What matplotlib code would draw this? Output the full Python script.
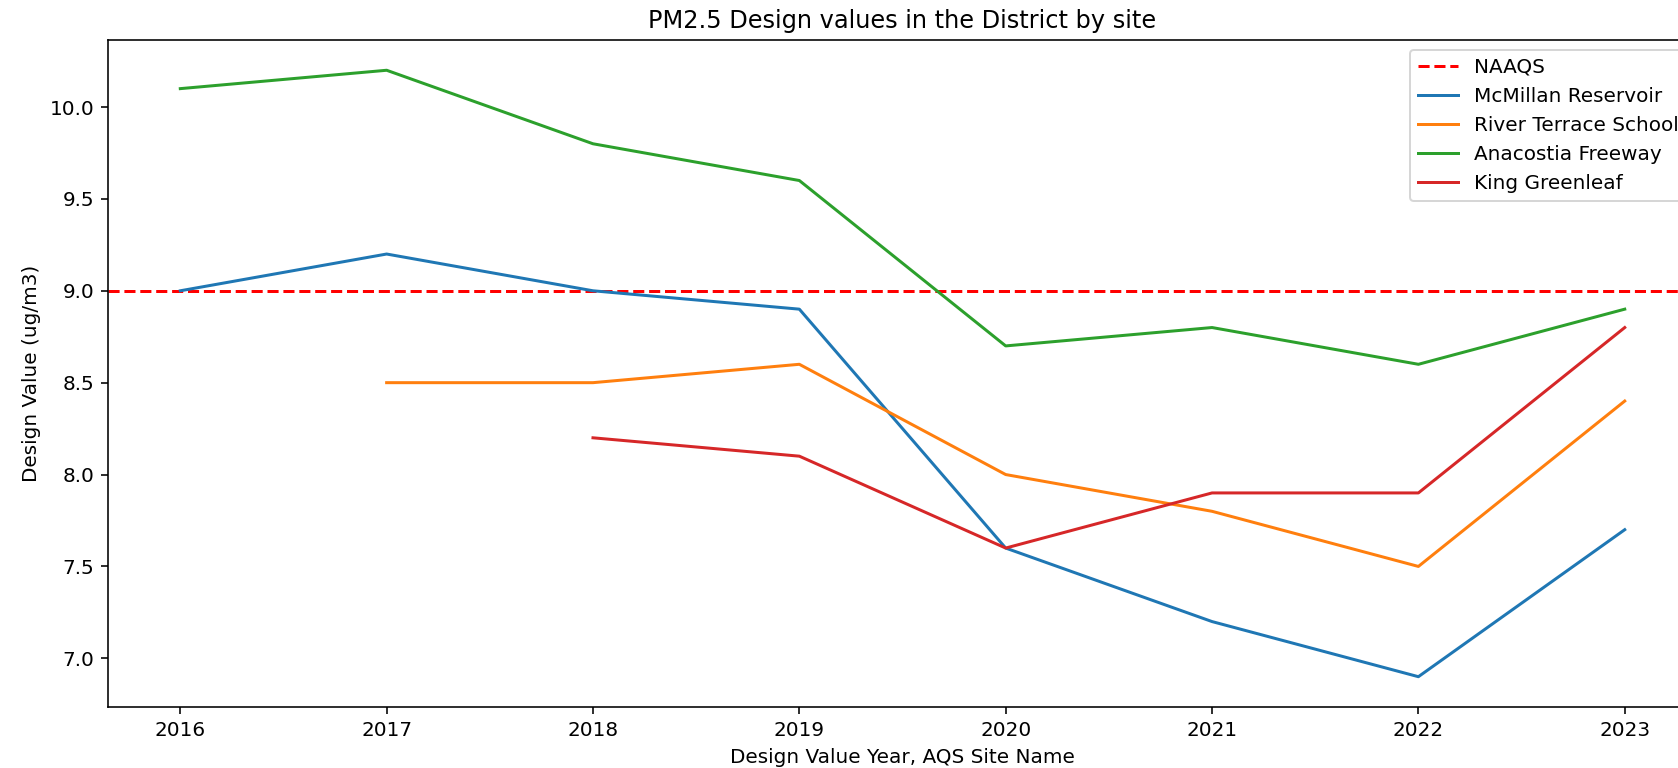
import matplotlib
matplotlib.use("Agg")
import matplotlib.pyplot as plt
import numpy as np

years = [2016, 2017, 2018, 2019, 2020, 2021, 2022, 2023]
naaqs = 9.0

mcmillan = [9.0, 9.2, 9.0, 8.9, 7.6, 7.2, 6.9, 7.7]
river_terrace = [np.nan, 8.5, 8.5, 8.6, 8.0, 7.8, 7.5, 8.4]
anacostia = [10.1, 10.2, 9.8, 9.6, 8.7, 8.8, 8.6, 8.9]
king_greenleaf = [np.nan, np.nan, 8.2, 8.1, 7.6, 7.9, 7.9, 8.8]

sites = {
    "McMillan Reservoir": mcmillan,
    "River Terrace School": river_terrace,
    "Anacostia Freeway": anacostia,
    "King Greenleaf": king_greenleaf,
}

fig = plt.figure(figsize=(1678 / 144, 768 / 144), dpi=144)
ax = fig.add_axes([0.0644, 0.0794, 1.0113 - 0.0644, 0.948 - 0.0794])

ax.axhline(naaqs, color="red", linestyle="--", label="NAAQS")
for name, vals in sites.items():
    ax.plot(years, vals, label=name)

ax.set_xticks(years)
ax.set_title("PM2.5 Design values in the District by site")
ax.set_xlabel("Design Value Year, AQS Site Name")
ax.set_ylabel("Design Value (ug/m3)")
ax.legend(loc="upper right")

fig.savefig("out.png", dpi=144)
